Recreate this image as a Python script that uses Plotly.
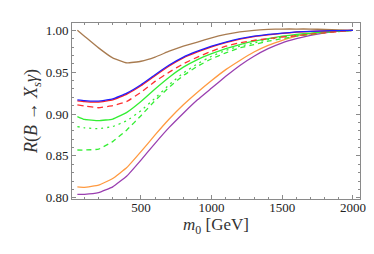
import plotly.graph_objects as go

m0 = [50, 100, 200, 300, 400, 500, 600, 700, 800, 900, 1000, 1100, 1200, 1300, 1400, 1500, 1600, 1700, 1800, 1900, 2000]

brown = [1.000, 0.993, 0.979, 0.967, 0.961, 0.963, 0.968, 0.975, 0.981, 0.986, 0.991, 0.995, 0.998, 1.000, 1.001, 1.0015, 1.0015, 1.0015, 1.001, 1.0005, 1.000]
blue = [0.917, 0.916, 0.9155, 0.918, 0.925, 0.935, 0.947, 0.9585, 0.968, 0.975, 0.981, 0.986, 0.990, 0.993, 0.995, 0.9965, 0.998, 0.9988, 0.9993, 0.9997, 1.000]
red_solid = [0.9158, 0.9148, 0.9143, 0.9168, 0.9238, 0.9338, 0.9458, 0.9574, 0.967, 0.9741, 0.9802, 0.9853, 0.9894, 0.9925, 0.9946, 0.9962, 0.9977, 0.9986, 0.9992, 0.9997, 1.000]
red_dash = [0.911, 0.9095, 0.9075, 0.910, 0.915, 0.926, 0.939, 0.950, 0.960, 0.968, 0.975, 0.981, 0.985, 0.988, 0.990, 0.992, 0.9935, 0.9953, 0.997, 0.9985, 1.000]
green_solid = [0.897, 0.8935, 0.892, 0.894, 0.902, 0.915, 0.930, 0.944, 0.956, 0.965, 0.972, 0.978, 0.983, 0.987, 0.990, 0.993, 0.995, 0.9967, 0.998, 0.999, 1.000]
green_dot = [0.885, 0.8835, 0.8825, 0.885, 0.892, 0.904, 0.919, 0.935, 0.949, 0.960, 0.969, 0.976, 0.981, 0.985, 0.989, 0.992, 0.994, 0.996, 0.998, 0.999, 1.000]
green_dash = [0.857, 0.857, 0.858, 0.867, 0.881, 0.898, 0.916, 0.932, 0.946, 0.957, 0.966, 0.973, 0.979, 0.983, 0.987, 0.990, 0.993, 0.995, 0.997, 0.9985, 1.000]
orange = [0.813, 0.8125, 0.815, 0.823, 0.836, 0.855, 0.875, 0.894, 0.911, 0.926, 0.940, 0.953, 0.964, 0.974, 0.982, 0.988, 0.993, 0.996, 0.998, 0.999, 1.000]
purple = [0.804, 0.804, 0.806, 0.813, 0.826, 0.845, 0.865, 0.884, 0.901, 0.917, 0.931, 0.945, 0.958, 0.969, 0.978, 0.985, 0.990, 0.994, 0.997, 0.999, 1.000]

x_ticks = [500, 1000, 1500, 2000]
y_ticks = [0.80, 0.85, 0.90, 0.95, 1.00]

series = [
    (brown, "#a87b50", "solid"),
    (orange, "#ff9a40", "solid"),
    (purple, "#9a3fb0", "solid"),
    (green_dash, "#33ee33", "5px,4px"),
    (green_dot, "#33ee33", "2px,4px"),
    (green_solid, "#33ee33", "solid"),
    (red_dash, "#ff3030", "6px,4px"),
    (red_solid, "#ff2020", "solid"),
    (blue, "#2020ff", "solid"),
]

fig = go.Figure()
for ys, col, dash in series:
    fig.add_trace(go.Scatter(x=m0, y=ys, mode="lines",
                             line=dict(color=col, width=1.3, dash=dash, shape="spline", smoothing=0.3),
                             showlegend=False))

axis_common = dict(
    showgrid=False, zeroline=False, showline=True, linecolor="#8a8a8a", linewidth=1,
    mirror="ticks", ticks="inside", tickcolor="#8a8a8a", ticklen=4,
    tickfont=dict(family="Liberation Serif", size=13, color="#222"),
)
fig.update_xaxes(range=[12, 2050], tickvals=x_ticks, ticklabelstandoff=-4,
                 minor=dict(dtick=100, tick0=0, ticks="inside", ticklen=2, tickcolor="#8a8a8a"),
                 title=dict(text="<i>m</i><sub>0</sub> [GeV]", font=dict(family="Liberation Serif", size=17, color="#333"), standoff=4),
                 **axis_common)
fig.update_yaxes(range=[0.7985, 1.0087], tickvals=y_ticks, tickformat=".2f",
                 minor=dict(dtick=0.01, tick0=0.8, ticks="inside", ticklen=2, tickcolor="#8a8a8a"),
                 title=dict(text="<i>R</i>(<i>B</i> → <i>X<sub>s</sub>γ</i>)", font=dict(family="Liberation Serif", size=18, color="#333"), standoff=3),
                 **axis_common)
fig.update_layout(width=374, height=254, margin=dict(l=64, r=22, t=15, b=63),
                  plot_bgcolor="white", paper_bgcolor="white")
fig.write_html("out.html")
